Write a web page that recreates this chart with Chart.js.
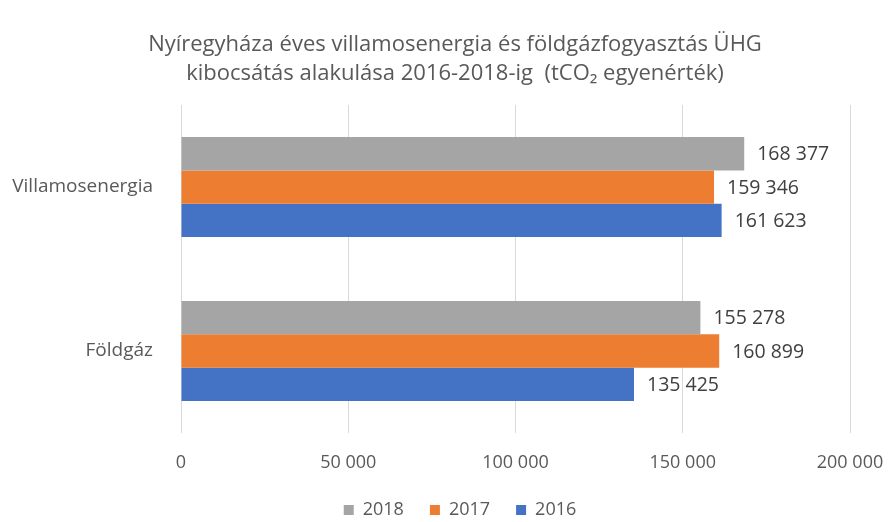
<!DOCTYPE html>
<html>
<head>
<meta charset="utf-8">
<script src="https://cdn.jsdelivr.net/npm/chart.js@4"></script>
<style>
  html, body { margin: 0; padding: 0; background: #fff; }
  #wrap { width: 888px; height: 522px; }
</style>
</head>
<body>
<div id="wrap"><canvas id="chart" width="888" height="522"></canvas></div>
<script>
const categories = ['Villamosenergia', 'Földgáz'];
const years = ['2018', '2017', '2016'];
const values2018 = [168377, 155278];
const values2017 = [159346, 160899];
const values2016 = [161623, 135425];
const xTicks = [0, 50000, 100000, 150000, 200000];

const fmt = v => String(v).replace(/\B(?=(\d{3})+(?!\d))/g, ' ');

// numbers at the end of the bars
const valueLabels = {
  id: 'valueLabels',
  afterDatasetsDraw(chart) {
    const ctx = chart.ctx;
    ctx.save();
    ctx.font = '19.5px "Open Sans"';
    ctx.fillStyle = '#404040';
    ctx.textBaseline = 'middle';
    ctx.textAlign = 'left';
    chart.data.datasets.forEach((ds, i) => {
      chart.getDatasetMeta(i).data.forEach((bar, j) => {
        ctx.fillText(fmt(ds.data[j]), bar.x + 13, bar.y + 1);
      });
    });
    ctx.restore();
  }
};

// title and legend sit a bit right of the plot's centre in the original
const nudge = {
  id: 'nudge',
  afterLayout(chart) {
    const t = chart.titleBlock;
    if (t) { t.left += 30; t.right += 30; }
    const l = chart.legend;
    if (l) { l.left += 35; l.right += 35; }
  }
};

new Chart(document.getElementById('chart').getContext('2d'), {
  type: 'bar',
  data: {
    labels: categories,
    datasets: [
      { label: years[0], data: values2018, backgroundColor: '#A5A5A5' },
      { label: years[1], data: values2017, backgroundColor: '#ED7D31' },
      { label: years[2], data: values2016, backgroundColor: '#4472C4' }
    ]
  },
  options: {
    indexAxis: 'y',
    responsive: false,
    animation: false,
    barPercentage: 1,
    categoryPercentage: 0.61,
    layout: { padding: { left: 0, right: 38, top: 0, bottom: -7 } },
    plugins: {
      title: {
        display: true,
        text: ['Nyíregyháza éves villamosenergia és földgázfogyasztás ÜHG', 'kibocsátás alakulása 2016-2018-ig  (tCO₂ egyenérték)'],
        color: '#595959',
        font: { family: 'Open Sans', size: 22, weight: 'normal', lineHeight: 1.32 },
        padding: { top: 30, bottom: 17 }
      },
      legend: {
        position: 'bottom',
        labels: {
          color: '#595959',
          font: { family: 'Open Sans', size: 18 },
          boxWidth: 10,
          boxHeight: 10,
          padding: 26
        }
      },
      tooltip: { enabled: false }
    },
    scales: {
      x: {
        min: 0,
        max: 200000,
        afterBuildTicks: scale => { scale.ticks = xTicks.map(v => ({ value: v })); },
        afterFit: scale => { scale.paddingLeft = 0; scale.paddingRight = 0; scale.height = 42; },
        ticks: {
          color: '#595959',
          font: { family: 'Open Sans', size: 18 },
          padding: 19,
          maxRotation: 0,
          callback: v => fmt(v)
        },
        grid: { color: '#d9d9d9', drawTicks: false },
        border: { display: false }
      },
      y: {
        afterFit: scale => { scale.width = 181; },
        ticks: {
          color: '#595959',
          font: { family: 'Open Sans', size: 19 },
          padding: 20
        },
        grid: { display: false },
        border: { display: false }
      }
    }
  },
  plugins: [valueLabels, nudge]
});
</script>
</body>
</html>
